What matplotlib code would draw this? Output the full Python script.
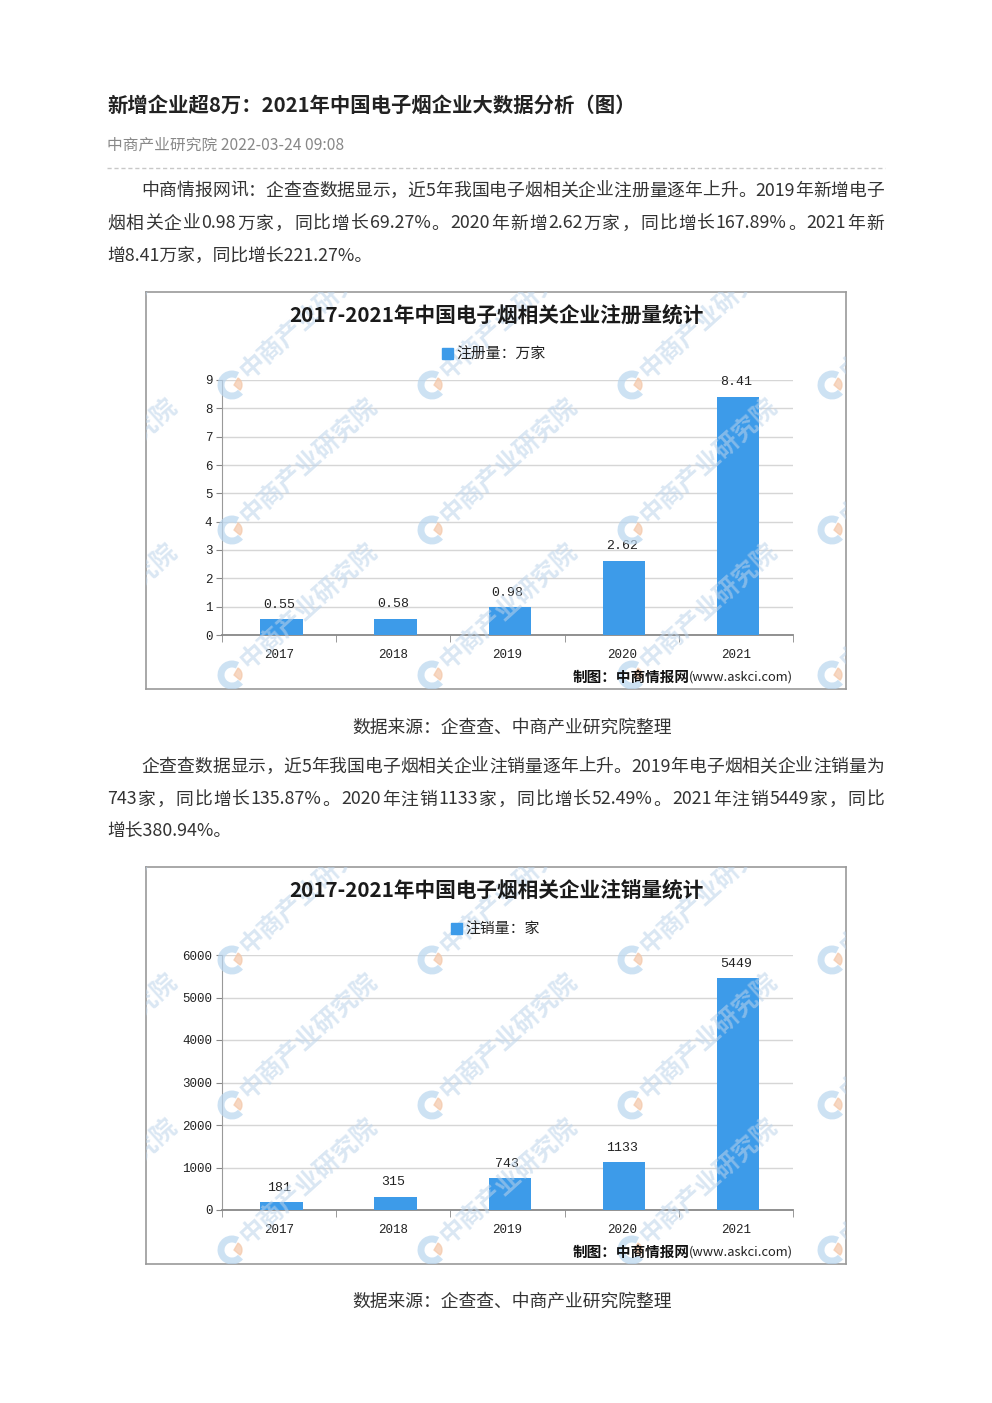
import re
import matplotlib
matplotlib.use("Agg")
import matplotlib.pyplot as plt
from matplotlib.patches import Rectangle, Arc, Wedge
from matplotlib.lines import Line2D
from matplotlib.font_manager import FontProperties

FAMILY = ['Noto Sans CJK SC', 'DejaVu Sans']
plt.rcParams['font.family'] = FAMILY

# data
years = ['2017', '2018', '2019', '2020', '2021']
registered = [0.55, 0.58, 0.98, 2.62, 8.41]      # 万家
cancelled = [181, 315, 743, 1133, 5449]          # 家

page_title = "新增企业超8万：2021年中国电子烟企业大数据分析（图）"
meta = "中商产业研究院 2022-03-24 09:08"
para1 = ["中商情报网讯：企查查数据显示，近5年我国电子烟相关企业注册量逐年上升。2019年新增电子",
         "烟相关企业0.98万家，同比增长69.27%。2020年新增2.62万家，同比增长167.89%。2021年新",
         "增8.41万家，同比增长221.27%。"]
para2 = ["企查查数据显示，近5年我国电子烟相关企业注销量逐年上升。2019年电子烟相关企业注销量为",
         "743家，同比增长135.87%。2020年注销1133家，同比增长52.49%。2021年注销5449家，同比",
         "增长380.94%。"]
source = "数据来源：企查查、中商产业研究院整理"

W, H = 992, 1403
fig = plt.figure(figsize=(W / 100, H / 100), dpi=100)
renderer = fig.canvas.get_renderer()


def fx(x):
    return x / W


def fy(y):
    return 1 - y / H


BLUE = '#3d9be9'
NUMFONT = 'Liberation Mono'
BODY_SIZE = 12.82

# header
fig.text(fx(107), fy(105), page_title, fontsize=14.65, fontweight='bold', color='#222222', va='center')
fig.text(fx(107), fy(145), meta, fontsize=11.3, color='#888888', va='center')
fig.add_artist(Line2D([fx(107), fx(885)], [fy(168), fy(168)], color='#c8c8c8', lw=1,
                      linestyle=(0, (3, 2))))


def text_width(s, fp):
    return renderer.get_text_width_height_descent(s, fp, ismath=False)[0]


def justified_line(x0, x1, y, line):
    # spread the extra room over the gaps between characters / ascii words
    fp = FontProperties(family=FAMILY, size=BODY_SIZE)
    tokens = re.findall(r'[A-Za-z0-9.%]+|.', line)
    extra = (x1 - x0 - text_width(line, fp)) / (len(tokens) - 1)
    prefix = ""
    for i, tok in enumerate(tokens):
        left = text_width(prefix + tok, fp) - text_width(tok, fp) if prefix else 0
        fig.text(fx(x0 + left + i * extra), fy(y), tok, fontsize=BODY_SIZE, color='#333333',
                 va='center')
        prefix += tok


def paragraph(lines, y0):
    for i, line in enumerate(lines):
        x = 141 if i == 0 else 107
        y = y0 + i * 32.5
        if i < len(lines) - 1:
            justified_line(x, 884, y, line)
        else:
            fig.text(fx(x), fy(y), line, fontsize=BODY_SIZE, color='#333333', va='center')


def chart(top, values, ylim, yticks, title, legend, lx, decimals):
    # outer box
    box = fig.add_axes([fx(146), fy(top + 397), 700 / W, 397 / H])
    box.set_xticks([])
    box.set_yticks([])
    for s in box.spines.values():
        s.set_color('#9a9a9a')
        s.set_linewidth(1.2)

    ax = fig.add_axes([fx(222), fy(top + 343), 571 / W, (343 - 88) / H])
    ax.set_facecolor('none')
    x = range(len(years))
    ax.bar([i + 0.02 for i in x], values, width=0.37, color=BLUE, zorder=3)
    ax.set_xlim(-0.5, len(years) - 0.5)
    ax.set_ylim(*ylim)
    ax.set_yticks(yticks)
    ax.set_xticks(list(x))
    ax.set_xticklabels(years)
    ax.set_xticks([i - 0.5 for i in range(len(years) + 1)], minor=True)
    ax.tick_params(axis='x', which='major', length=0, pad=10, labelsize=9, labelcolor='#222222')
    ax.tick_params(axis='x', which='minor', length=5, color='#888888', direction='out')
    ax.tick_params(axis='y', length=4, color='#888888', pad=3, labelsize=9, labelcolor='#222222')
    for lab in ax.get_xticklabels() + ax.get_yticklabels():
        lab.set_fontfamily(NUMFONT)
    ax.grid(axis='y', color='#d6d6d6', lw=1, zorder=0)
    for s in ['top', 'right']:
        ax.spines[s].set_visible(False)
    ax.spines['left'].set_color('#999999')
    ax.spines['bottom'].set_color('#888888')
    ax.spines['bottom'].set_linewidth(1.3)
    for i, v in enumerate(values):
        txt = f"{v:.{decimals}f}"
        ax.annotate(txt, (i, v), xytext=(0, 6), textcoords='offset points', ha='center', va='bottom',
                    fontsize=9.5, color='#222222', fontfamily=NUMFONT)

    # chart title and legend
    fig.text(0.5, fy(top + 24), title, ha='center', va='center', fontsize=14.9, fontweight='bold',
             color='#1a1a1a')
    fig.add_artist(Rectangle((fx(lx), fy(top + 67)), 11 / W, 11 / H, color=BLUE))
    fig.text(fx(lx + 14), fy(top + 63), legend, va='center', fontsize=10.7, color='#222222')

    # credit
    fig.text(fx(793), fy(top + 385), "(www.askci.com)", ha='right', va='center', fontsize=9.3,
             color='#222222')
    fig.text(fx(690), fy(top + 385), "制图：中商情报网", ha='right', va='center', fontsize=10.5,
             fontweight='bold', color='#111111')

    # watermark overlay
    wm = fig.add_axes([fx(146), fy(top + 397), 700 / W, 397 / H])
    wm.set_xlim(146, 846)
    wm.set_ylim(top + 397, top)
    wm.axis('off')
    wm.patch.set_visible(False)
    for ry in [93, 238, 383]:
        for cx in [32, 232, 432, 632, 832]:
            cy = top + ry
            wm.text(cx + 12, cy - 10, "中商产业研究院", rotation=42, rotation_mode='anchor',
                    ha='left', va='center', fontsize=18, fontweight='bold', color='#bcd3ea',
                    alpha=0.55, clip_on=True)
            wm.add_patch(Arc((cx, cy), 22, 22, theta1=40, theta2=300, lw=5, color='#b9d6ef',
                             alpha=0.7, clip_on=True))
            wm.add_patch(Wedge((cx + 2, cy), 8, 300, 400, color='#f4c7a8', alpha=0.7, clip_on=True))


paragraph(para1, 191)
chart(292, registered, (0, 9), range(0, 10), "2017-2021年中国电子烟相关企业注册量统计",
      "注册量：万家", 442, 2)
fig.text(fx(512), fy(728), source, ha='center', va='center', fontsize=12.8, color='#333333')

paragraph(para2, 767)
chart(867, cancelled, (0, 6000), range(0, 6001, 1000), "2017-2021年中国电子烟相关企业注销量统计",
      "注销量：家", 451, 0)
fig.text(fx(512), fy(1302), source, ha='center', va='center', fontsize=12.8, color='#333333')

fig.savefig("out.png", dpi=100)
